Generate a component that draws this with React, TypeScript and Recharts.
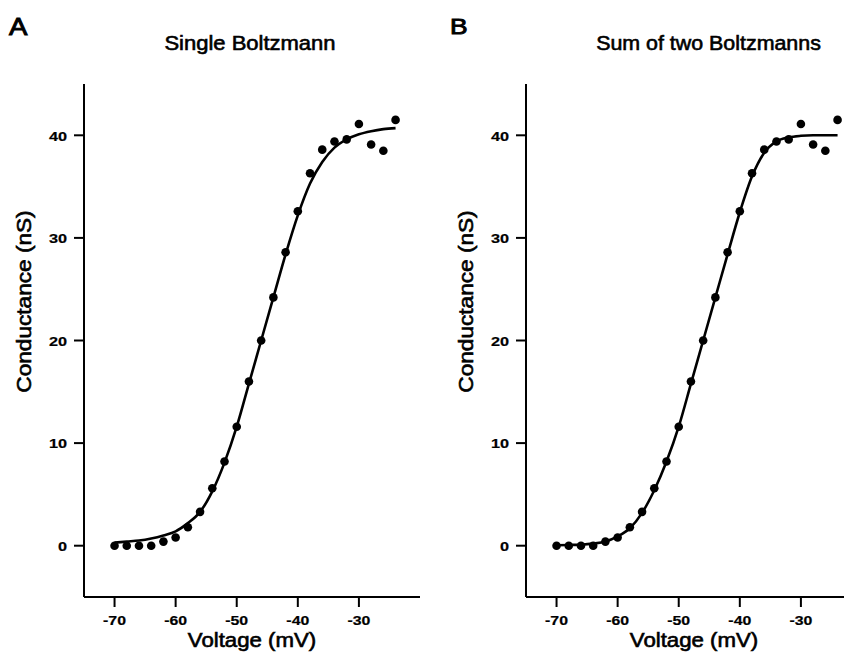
import React from "react";
import { ComposedChart, XAxis, YAxis, Line, Scatter } from "recharts";

// Membrane voltage (mV) of each measurement
const voltage = [-70, -68, -66, -64, -62, -60, -58, -56, -54, -52, -50, -48, -46, -44, -42, -40, -38, -36, -34, -32, -30, -28, -26, -24];
// Measured conductance (nS)
const conductance = [0, 0, 0, 0, 0.4, 0.8, 1.8, 3.3, 5.6, 8.2, 11.6, 16.0, 20.0, 24.2, 28.6, 32.6, 36.3, 38.6, 39.4, 39.6, 41.1, 39.1, 38.5, 41.5];
// Fitted curve (single Boltzmann)
const fitSingle = [0.3, 0.4, 0.5, 0.7, 1.0, 1.4, 2.2, 3.3, 5.3, 8.1, 11.6, 15.8, 20.0, 24.2, 28.4, 32.2, 35.3, 37.4, 38.8, 39.6, 40.1, 40.4, 40.6, 40.7];
// Fitted curve (sum of two Boltzmanns)
const fitDouble = [0.05, 0.07, 0.1, 0.2, 0.4, 0.9, 1.7, 3.2, 5.4, 8.2, 11.6, 15.8, 20.0, 24.2, 28.4, 32.5, 36.0, 38.3, 39.4, 39.8, 39.95, 40.0, 40.0, 40.0];

const xTicks = [-70, -60, -50, -40, -30];
const yTicks = [0, 10, 20, 30, 40];
const panelTitles = ["Single Boltzmann", "Sum of two Boltzmanns"];
const panelLetters = ["A", "B"];
const xLabel = "Voltage (mV)";
const yLabel = "Conductance (nS)";

const FONT = "'Liberation Sans', Arial, Helvetica, sans-serif";

function SText({ x, y, size, sx = 1, weight = "normal", anchor = "middle", rotate = 0, children, stroke = 0.5 }: any) {
  return (
    <text
      transform={`translate(${x},${y}) rotate(${rotate}) scale(${sx},1)`}
      fontFamily={FONT}
      fontSize={size}
      fontWeight={weight}
      textAnchor={anchor}
      fill="#000"
      stroke="#000"
      strokeWidth={stroke}
    >
      {children}
    </text>
  );
}

const XTick = (props: any) => {
  const { x, y, payload } = props;
  return (
    <SText x={x} y={y + 9.2} size={13} sx={1.22} weight="bold" stroke={0.2}>
      {String(payload.value)}
    </SText>
  );
};

const YTick = (props: any) => {
  const { x, y, payload } = props;
  return (
    <SText x={x} y={y + 5.2} size={13} sx={1.25} weight="bold" anchor="end" stroke={0.2}>
      {String(payload.value)}
    </SText>
  );
};

const Dot = (props: any) => <circle cx={props.cx} cy={props.cy} r={4.3} fill="#000" />;

function Panel({ fit }: { fit: number[] }) {
  const data = voltage.map((v, i) => ({ v, g: conductance[i], fit: fit[i] }));
  const axisStyle = { stroke: "#000", strokeWidth: 2 };
  return (
    <ComposedChart width={430} height={662} data={data} margin={{ top: 84, right: 10, bottom: 0, left: 0 }}>
      <XAxis
        type="number"
        dataKey="v"
        domain={[-75, -20]}
        ticks={xTicks}
        allowDataOverflow
        height={65}
        tickSize={10}
        tickMargin={9}
        axisLine={axisStyle}
        tickLine={axisStyle}
        tick={<XTick />}
      />
      <YAxis
        type="number"
        domain={[-5, 45]}
        ticks={yTicks}
        allowDataOverflow
        width={84}
        tickSize={10}
        tickMargin={7}
        axisLine={axisStyle}
        tickLine={axisStyle}
        tick={<YTick />}
      />
      <Line dataKey="fit" type="monotone" dot={false} stroke="#000" strokeWidth={2.6} isAnimationActive={false} />
      <Scatter dataKey="g" fill="#000" shape={<Dot />} isAnimationActive={false} />
    </ComposedChart>
  );
}

export default function App() {
  return (
    <div style={{ position: "relative", width: 852, height: 662, margin: -8, overflow: "hidden", background: "#fff" }}>
      <div style={{ position: "absolute", left: 0, top: 0 }}>
        <Panel fit={fitSingle} />
      </div>
      <div style={{ position: "absolute", left: 442, top: 0 }}>
        <Panel fit={fitDouble} />
      </div>
      <svg width={852} height={662} style={{ position: "absolute", left: 0, top: 0, pointerEvents: "none" }}>
        <SText x={9} y={35} size={23} sx={1.2} anchor="start" stroke={0.9}>{panelLetters[0]}</SText>
        <SText x={450} y={34} size={22} sx={1.2} anchor="start" stroke={0.9}>{panelLetters[1]}</SText>
        <SText x={250} y={50} size={20} sx={1.1} stroke={0.6}>{panelTitles[0]}</SText>
        <SText x={708.5} y={50} size={20} sx={1.07} stroke={0.6}>{panelTitles[1]}</SText>
        <SText x={252} y={647} size={19.5} sx={1.14} stroke={0.6}>{xLabel}</SText>
        <SText x={694} y={647} size={19.5} sx={1.14} stroke={0.6}>{xLabel}</SText>
        <SText x={31} y={301.5} size={19.5} sx={1.16} rotate={-90} stroke={0.6}>{yLabel}</SText>
        <SText x={472.5} y={301.5} size={19.5} sx={1.16} rotate={-90} stroke={0.6}>{yLabel}</SText>
      </svg>
    </div>
  );
}
